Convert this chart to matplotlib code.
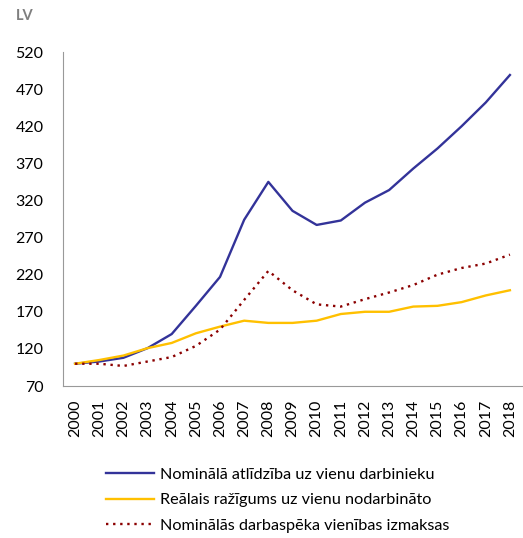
import matplotlib.pyplot as plt

years = [str(y) for y in range(2000, 2019)]

# indices, 2000 = 100
nominal_comp = [100, 103, 108, 121, 140, 178, 217, 294, 345, 306, 287, 293,
                317, 334, 363, 390, 420, 452, 489]
real_productivity = [100, 105, 111, 121, 128, 141, 150, 158, 155, 155, 158, 167,
                     170, 170, 177, 178, 183, 192, 199]
nominal_ulc = [100, 100, 97, 103, 109, 124, 146, 186, 225, 199, 180, 177,
               187, 196, 206, 220, 229, 235, 247]

labels = ['Nominālā atlīdzība uz vienu darbinieku',
          'Reālais ražīgums uz vienu nodarbināto',
          'Nominālās darbaspēka vienības izmaksas']

plt.rcParams['font.family'] = ['Lato', 'DejaVu Sans']

fig = plt.figure(figsize=(5.23, 5.38), dpi=100)
ax = fig.add_axes([63 / 523, 1 - 386 / 538, (522 - 63) / 523, (386 - 52) / 538])

x = range(len(years))
ax.plot(x, nominal_comp, color='#333399', lw=1.7, label=labels[0])
ax.plot(x, real_productivity, color='#FFC000', lw=1.7, label=labels[1])
ax.plot(x, nominal_ulc, color='#8B0000', lw=1.7, ls=(0, (1, 2)), label=labels[2])

ax.set_xlim(-0.5, len(years) - 0.5)
ax.set_ylim(70, 520)
ax.set_yticks(range(70, 521, 50))
ax.set_xticks(list(x))
ax.set_xticklabels(years, rotation=90)
ax.tick_params(length=0, labelsize=11.5, colors='black')
ax.tick_params(axis='x', pad=10)
ax.tick_params(axis='y', pad=14)

for s in ['top', 'right']:
    ax.spines[s].set_visible(False)
for s in ['left', 'bottom']:
    ax.spines[s].set_color('#999999')
    ax.spines[s].set_linewidth(0.8)

fig.text(16 / 523, 1 - 16 / 538, 'LV', fontsize=10.5, fontweight='bold',
         color='#7F7F7F', va='center', ha='left')

fig.legend(loc='upper left', bbox_to_anchor=(91 / 523, 1 - 453 / 538),
           frameon=False, fontsize=11.7, handlelength=3.0, handletextpad=0.36,
           labelspacing=0.68)

fig.savefig('out.png', dpi=100)
